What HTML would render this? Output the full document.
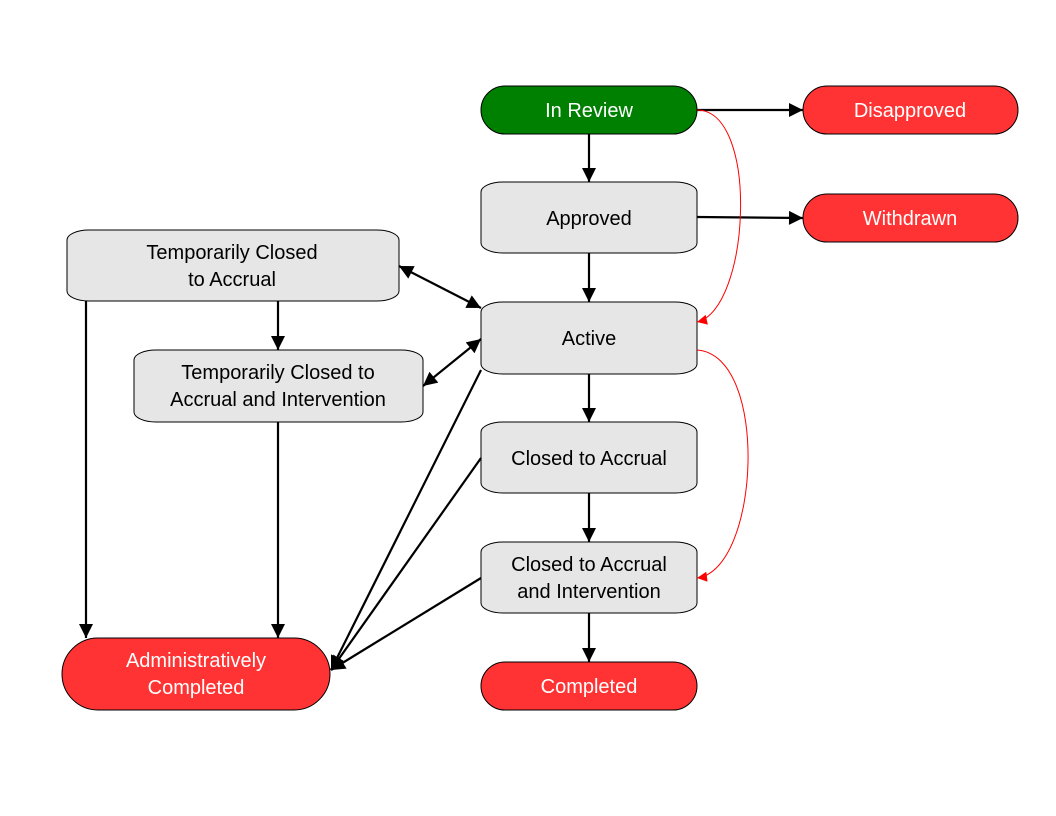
<!DOCTYPE html>
<html><head><style>body{margin:0;background:#fff}svg{display:block}text{font-family:"Liberation Sans",sans-serif;font-size:20px;text-anchor:middle}</style></head><body>
<svg width="1056" height="816" viewBox="0 0 1056 816">
<defs>
<marker id="a" viewBox="0 0 10 10" refX="10" refY="5" markerWidth="9" markerHeight="7" orient="auto-start-reverse" markerUnits="userSpaceOnUse"><path d="M0,0L10,5L0,10z" fill="#000"/></marker>
<marker id="ab" viewBox="0 0 10 10" refX="10" refY="5" markerWidth="22" markerHeight="14" orient="auto-start-reverse" markerUnits="userSpaceOnUse"><path d="M0,0L10,5L0,10z" fill="#000"/></marker>
<marker id="r" viewBox="0 0 10 10" refX="10" refY="5" markerWidth="14" markerHeight="10" orient="auto" markerUnits="userSpaceOnUse"><path d="M0,0L10,5L0,10z" fill="#f00"/></marker>
</defs>
<g stroke="#000" stroke-width="1" fill="#e6e6e6">
<rect x="481" y="86" width="216" height="48" rx="24" fill="#008000"/>
<rect x="803" y="86" width="215" height="48" rx="24" fill="#ff3333"/>
<rect x="803" y="194" width="215" height="48" rx="24" fill="#ff3333"/>
<rect x="481" y="662" width="216" height="48" rx="24" fill="#ff3333"/>
<rect x="62" y="638" width="268" height="72" rx="36" fill="#ff3333"/>
<rect x="481" y="182" width="216" height="71" rx="22" ry="10"/>
<rect x="481" y="302" width="216" height="72" rx="22" ry="10"/>
<rect x="481" y="422" width="216" height="71" rx="22" ry="10"/>
<rect x="481" y="542" width="216" height="71" rx="22" ry="10"/>
<rect x="67" y="230" width="332" height="71" rx="22" ry="10"/>
<rect x="134" y="350" width="289" height="72" rx="22" ry="10"/>
</g>
<g stroke="#000" stroke-width="2.2" fill="none">
<line x1="697" y1="110" x2="803" y2="110" marker-end="url(#ab)"/>
<line x1="697" y1="217" x2="803" y2="218" marker-end="url(#ab)"/>
<line x1="589" y1="134" x2="589" y2="182" marker-end="url(#ab)"/>
<line x1="589" y1="253" x2="589" y2="302" marker-end="url(#ab)"/>
<line x1="589" y1="374" x2="589" y2="422" marker-end="url(#ab)"/>
<line x1="589" y1="493" x2="589" y2="542" marker-end="url(#ab)"/>
<line x1="589" y1="613" x2="589" y2="662" marker-end="url(#ab)"/>
<line x1="399" y1="266" x2="481" y2="308" marker-start="url(#ab)" marker-end="url(#ab)"/>
<line x1="423" y1="386" x2="481" y2="339" marker-start="url(#ab)" marker-end="url(#ab)"/>
<line x1="278" y1="301" x2="278" y2="350" marker-end="url(#ab)"/>
<line x1="86" y1="301" x2="86" y2="638" marker-end="url(#ab)"/>
<line x1="278" y1="422" x2="278" y2="638" marker-end="url(#ab)"/>
<line x1="481" y1="370" x2="331" y2="670" marker-end="url(#ab)"/>
<line x1="481" y1="458" x2="331" y2="670" marker-end="url(#ab)"/>
<line x1="481" y1="578" x2="331" y2="670" marker-end="url(#ab)"/>
</g>
<g stroke="#f00" stroke-width="1" fill="none">
<path d="M697,110 C760,110 750,310 697,322" marker-end="url(#r)"/>
<path d="M697,350 C770,355 760,570 697,578" marker-end="url(#r)"/>
</g>
<g fill="#fff">
<text x="589" y="117">In Review</text>
<text x="910" y="117">Disapproved</text>
<text x="910" y="225">Withdrawn</text>
<text x="589" y="693">Completed</text>
<text x="196" y="667">Administratively</text>
<text x="196" y="694">Completed</text>
</g>
<g fill="#000">
<text x="589" y="225">Approved</text>
<text x="589" y="345">Active</text>
<text x="589" y="465">Closed to Accrual</text>
<text x="589" y="571">Closed to Accrual</text>
<text x="589" y="598">and Intervention</text>
<text x="232" y="259">Temporarily Closed</text>
<text x="232" y="286">to Accrual</text>
<text x="278" y="379">Temporarily Closed to</text>
<text x="278" y="406">Accrual and Intervention</text>
</g>
</svg>
</body></html>
